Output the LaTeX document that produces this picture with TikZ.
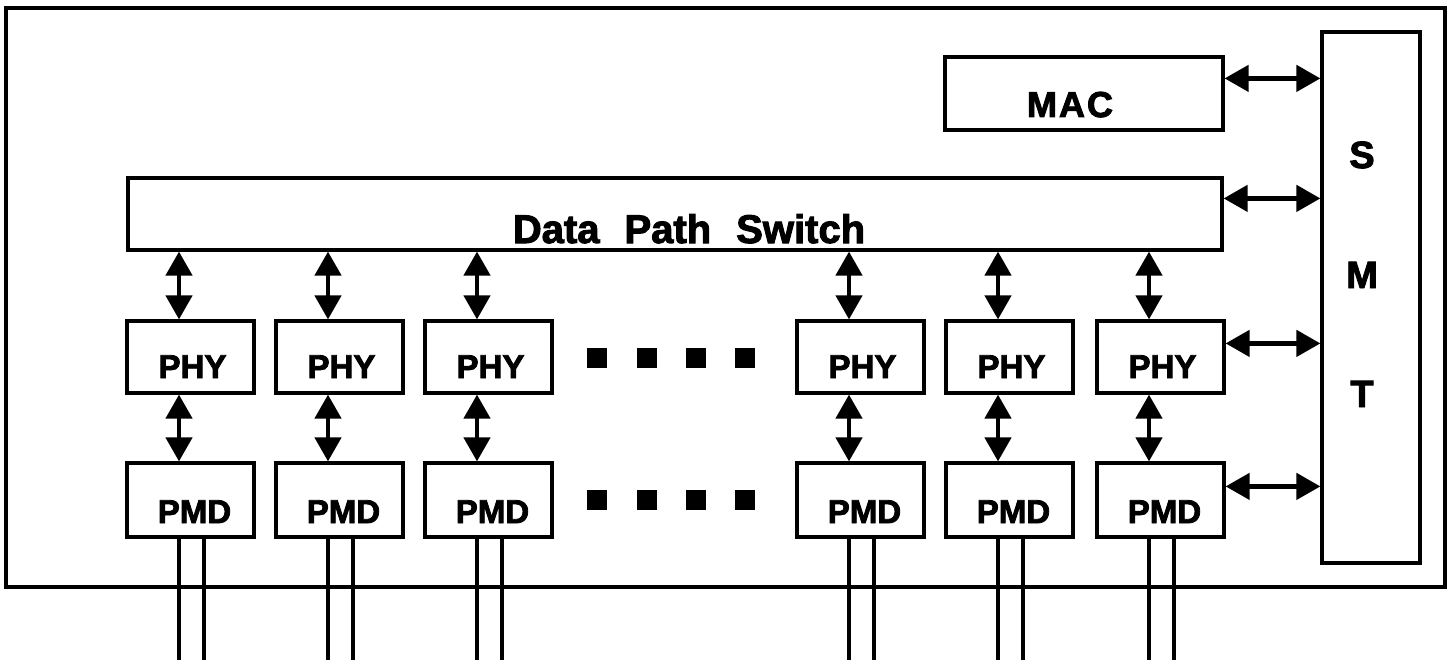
\documentclass[tikz,border=0pt]{standalone}
\usepackage{fontspec}
\setmainfont{Liberation Sans}[BoldFeatures={FakeBold=2.5}]
\usetikzlibrary{arrows.meta}

\begin{document}
\begin{tikzpicture}[x=1pt,y=-1pt,
  frame/.style={draw, line width=3.4pt, inner sep=0pt},
  box/.style={draw, line width=3.2pt, minimum width=127pt, minimum height=72pt, inner sep=0pt},
  lbl/.style={font=\bfseries\fontsize{33}{33}\selectfont, anchor=base, inner sep=0pt},
  big/.style={font=\bfseries\fontsize{40}{40}\selectfont, anchor=base, inner sep=0pt},
  smtl/.style={font=\bfseries\fontsize{38}{38}\selectfont, anchor=base, inner sep=0pt},
  link/.style={line width=4.5pt, {Triangle[length=24pt,width=26pt]}-{Triangle[length=24pt,width=26pt]}},
  fibre/.style={line width=3.5pt},
  blob/.style={fill, minimum size=20pt, inner sep=0pt}
]
\useasboundingbox (0,0) rectangle (1450,663);

% enclosure
\node[frame, minimum width=1439pt, minimum height=579pt] (encl) at (725.5,297.5) {};

% management, MAC and switch
\node[box, minimum width=98pt, minimum height=531pt] (smt) at (1371,297.5) {};
\node[box, minimum width=278pt, minimum height=73pt] (mac) at (1084,93.5) {};
\node[box, minimum width=1094pt, minimum height=72pt] (dps) at (675,214) {};

\node[big] (dpsl) at (689,243) {Data\hspace{25pt}Path\hspace{25pt}Switch};
\node[lbl, font=\bfseries\fontsize{36}{36}\selectfont] (macl) at (1070,117) {M\kern2pt A\kern2pt C};
\node[smtl] (sl) at (1362,168) {S};
\node[smtl] (ml) at (1362,288) {M};
\node[smtl] (tl) at (1362,407) {T};

% port columns
\coordinate (floor) at (0,660);
\foreach \i/\cx in {1/190.5, 2/339.5, 3/488.5, 4/860.5, 5/1009.5, 6/1160.5} {
  \node[box] (phy\i) at (\cx,357) {};
  \node[box, minimum height=74pt] (pmd\i) at (\cx,500) {};
  \node[lbl] (phyl\i) at (\cx+2,378) {PHY};
  \node[lbl] (pmdl\i) at (\cx+4,523) {PMD};
  \draw[link] ([xshift=-11.5pt]phy\i.north) -- ([xshift=-11.5pt]phy\i.north |- dps.south);
  \draw[link] ([xshift=-11.5pt]pmd\i.north) -- ([xshift=-11.5pt]pmd\i.north |- phy\i.south);
  \draw[fibre] ([xshift=-11.5pt]pmd\i.south) -- ([xshift=-11.5pt]pmd\i.south |- floor);
  \draw[fibre] ([xshift=13.5pt]pmd\i.south) -- ([xshift=13.5pt]pmd\i.south |- floor);
}

% omitted ports
\foreach \j/\bx in {1/597, 2/647, 3/696, 4/745} {
  \node[blob] (ua\j) at (\bx,358) {};
  \node[blob] (ub\j) at (\bx,500) {};
}

% links to SMT
\draw[link] ([yshift=-23pt]mac.north east) -- ([yshift=-23pt]mac.north east -| smt.west);
\draw[link] ([yshift=-22pt]dps.north east) -- ([yshift=-22pt]dps.north east -| smt.west);
\draw[link] ([yshift=-24pt]phy6.north east) -- ([yshift=-24pt]phy6.north east -| smt.west);
\draw[link] ([yshift=-25pt]pmd6.north east) -- ([yshift=-25pt]pmd6.north east -| smt.west);
\end{tikzpicture}
\end{document}
